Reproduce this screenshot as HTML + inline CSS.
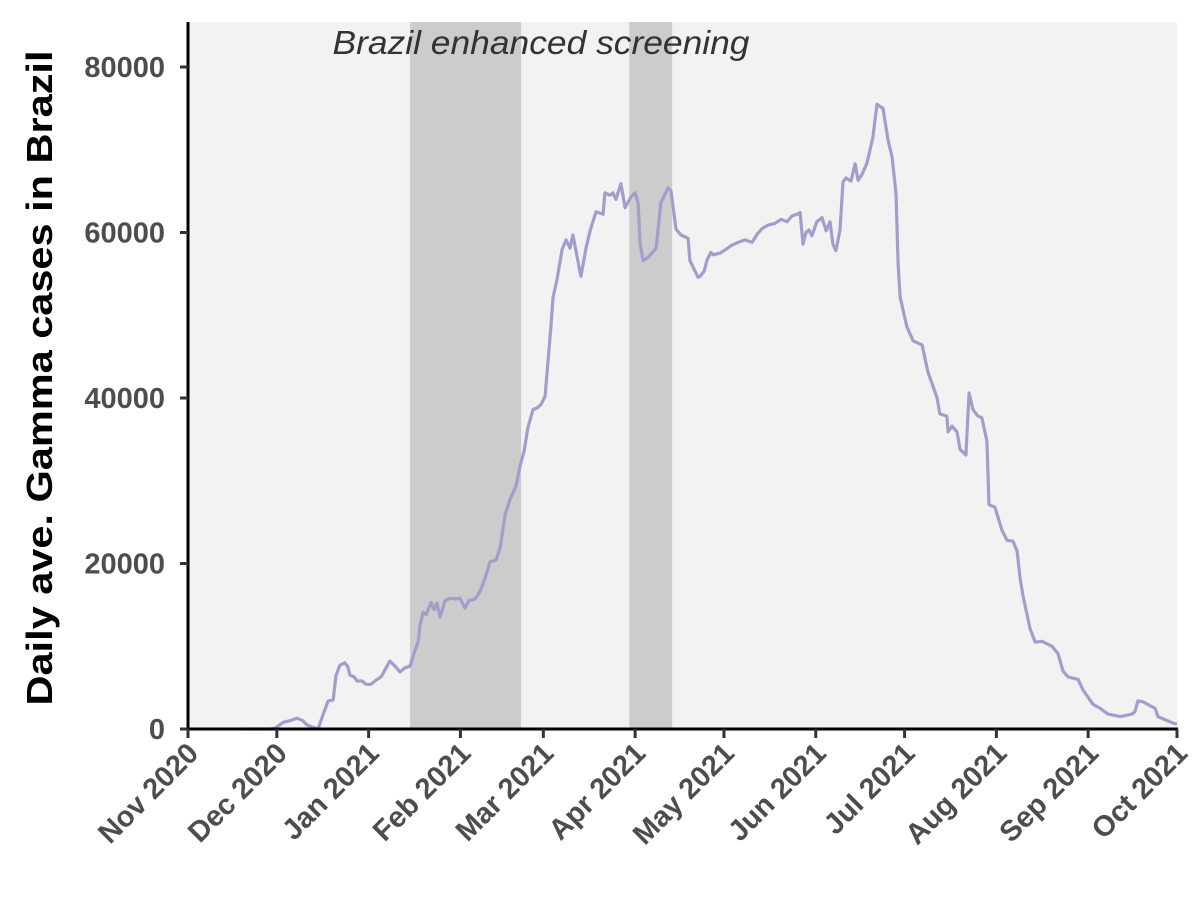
<!DOCTYPE html>
<html><head><meta charset="utf-8"><style>
html,body{margin:0;padding:0;background:#fff;}
svg{display:block;font-family:"Liberation Sans",sans-serif;}
</style></head><body>
<svg id="chart" width="1200" height="900" viewBox="0 0 1200 900">
<rect x="188" y="22" width="989" height="707" fill="#f2f2f2"/>
<g id="shades"></g>
<text x="541" y="54" text-anchor="middle" font-size="33" font-style="italic" fill="#333" textLength="417" lengthAdjust="spacingAndGlyphs">Brazil enhanced screening</text>
<g id="series"></g>
<g id="axes"></g>
<text transform="translate(52,378) rotate(-90)" text-anchor="middle" font-size="36" font-weight="bold" fill="#000" textLength="655" lengthAdjust="spacingAndGlyphs">Daily ave. Gamma cases in Brazil</text>
</svg>
<script>
// days since 2020-11-01
const days = [18.2,27.7,29.4,32.1,34.4,36.8,38.8,40.2,42.2,43.9,45.6,47.3,49.0,50.0,51.3,53.0,54.0,54.7,56.1,57.1,58.8,60.1,61.8,63.5,65.2,66.9,68.2,69.9,71.6,73.3,75.0,76.3,77.7,78.4,79.4,80.4,82.1,83.1,84.1,85.1,86.8,88.5,90.2,91.9,93.5,94.9,96.9,98.6,100.3,102.0,104.0,105.4,107.1,108.7,110.8,112.1,113.5,114.8,116.5,117.9,119.2,120.6,122.6,123.3,124.6,126.3,127.7,129.0,130.0,132.7,134.4,135.8,137.8,140.2,140.8,142.5,143.5,144.5,146.2,147.6,149.6,151.0,152.0,152.7,153.7,155.4,158.1,159.7,162.1,163.1,164.8,166.5,168.9,169.5,170.9,172.2,172.9,174.3,175.3,176.6,177.3,178.3,179.7,181.4,183.4,185.7,188.1,190.5,192.2,193.9,195.9,198.2,200.3,202.3,204.0,205.7,206.7,207.7,208.7,209.7,210.7,212.4,214.1,215.5,216.8,217.8,218.8,220.2,221.2,222.2,223.9,225.3,226.3,227.6,229.3,231.3,232.7,233.4,234.7,236.4,237.8,239.1,239.8,240.5,242.8,244.9,247.9,249.9,252.9,253.9,256.3,256.7,258.0,259.7,260.7,262.7,263.8,265.1,266.8,268.1,269.8,270.5,272.5,274.9,276.6,278.6,280.0,281.0,282.0,284.4,286.1,288.4,290.1,291.8,293.8,295.5,297.2,300.6,302.3,305.6,308.0,310.7,314.8,318.8,319.8,320.8,322.5,324.9,326.6,327.6,332.7,334.0];
const cases = [0,0,100,800,1000,1300,1000,500,200,0,1700,3400,3500,6500,7700,8000,7500,6500,6300,5800,5800,5400,5400,5900,6300,7400,8200,7600,6900,7400,7600,9100,10500,12600,14100,13800,15300,14400,15200,13500,15500,15800,15700,15800,14600,15500,15700,16600,18200,20200,20400,21900,25900,27700,29400,31700,33600,36400,38600,38800,39200,40200,48800,52200,54300,57900,59100,58100,59700,54700,58100,60200,62500,62200,64800,64500,64800,64000,65900,63000,64300,64800,63600,58600,56600,57000,58100,63600,65400,65000,60400,59700,59300,56600,55600,54600,54700,55300,56700,57600,57300,57400,57500,57900,58400,58800,59100,58800,59800,60500,60900,61100,61600,61300,62000,62200,62400,58600,60000,60300,59600,61300,61800,60200,61300,58600,57800,60300,66100,66600,66200,68300,66300,67000,68400,71500,75500,75300,75000,71200,69100,64700,56200,52200,48600,46900,46400,43100,40100,38100,37800,35900,36600,35900,33800,33100,40600,38600,37800,37600,34800,27100,26800,24000,22800,22700,21500,18200,16100,12100,10500,10600,10300,10000,9100,7000,6300,6000,4700,3000,2500,1800,1500,1800,2100,3400,3300,2800,2500,1500,700,600];
const tickDays = [0,30,61,92,120,151,181,212,242,273,304,334];
const tickLabels = ["Nov 2020","Dec 2020","Jan 2021","Feb 2021","Mar 2021","Apr 2021","May 2021","Jun 2021","Jul 2021","Aug 2021","Sep 2021","Oct 2021"];
const yTicks = [0,20000,40000,60000,80000];
const shadeStart = [75,149];
const shadeEnd = [112.5,163.5];

const NS="http://www.w3.org/2000/svg";
const X0=188,X1=1177,Y0=729,Y80=67;
const xs=d=>X0+(d/334)*(X1-X0);
const ys=v=>Y0-(v/80000)*(Y0-Y80);
function mk(tag,attrs,parent){const e=document.createElementNS(NS,tag);for(const k in attrs)e.setAttribute(k,attrs[k]);parent.appendChild(e);return e;}

const sh=document.getElementById('shades');
for(let i=0;i<shadeStart.length;i++){
  const r=mk('rect',{x:xs(shadeStart[i]),y:22,width:xs(shadeEnd[i])-xs(shadeStart[i]),height:Y0-22,fill:'#cccccc'},sh);
  
  
}
const ser=document.getElementById('series');
let dstr='';
for(let i=0;i<days.length;i++){dstr+=(i?'L':'M')+xs(days[i]).toFixed(1)+','+ys(cases[i]).toFixed(1);}
const p=mk('path',{d:dstr,fill:'none',stroke:'#a09fcc','stroke-width':3.2,'stroke-linejoin':'round'},ser);



const ax=document.getElementById('axes');
const yl=mk('line',{x1:X0,y1:22,x2:X0,y2:Y0+1.5,stroke:'#000','stroke-width':3},ax);


const xl=mk('line',{x1:X0-1.5,y1:Y0,x2:X1+1,y2:Y0,stroke:'#000','stroke-width':3},ax);


yTicks.forEach(v=>{
  const y=ys(v);
  const t=mk('line',{x1:X0-8,y1:y,x2:X0,y2:y,stroke:'#333','stroke-width':3},ax);
  
  
  const l=mk('text',{x:X0-23,y:y+10,'text-anchor':'end','font-size':29,'font-weight':'bold',fill:'#4d4d4d'},ax);
  l.textContent=v;
  
  
});
tickDays.forEach((d,i)=>{
  const x=xs(d);
  const t=mk('line',{x1:x,y1:Y0,x2:x,y2:Y0+9,stroke:'#333','stroke-width':3},ax);
  
  
  const l=mk('text',{transform:'translate('+(x+12)+','+(Y0+26)+') rotate(-45)','text-anchor':'end','font-size':29,'font-weight':'bold',fill:'#4d4d4d'},ax);
  l.textContent=tickLabels[i];
  
  
});
</script>
</body></html>
